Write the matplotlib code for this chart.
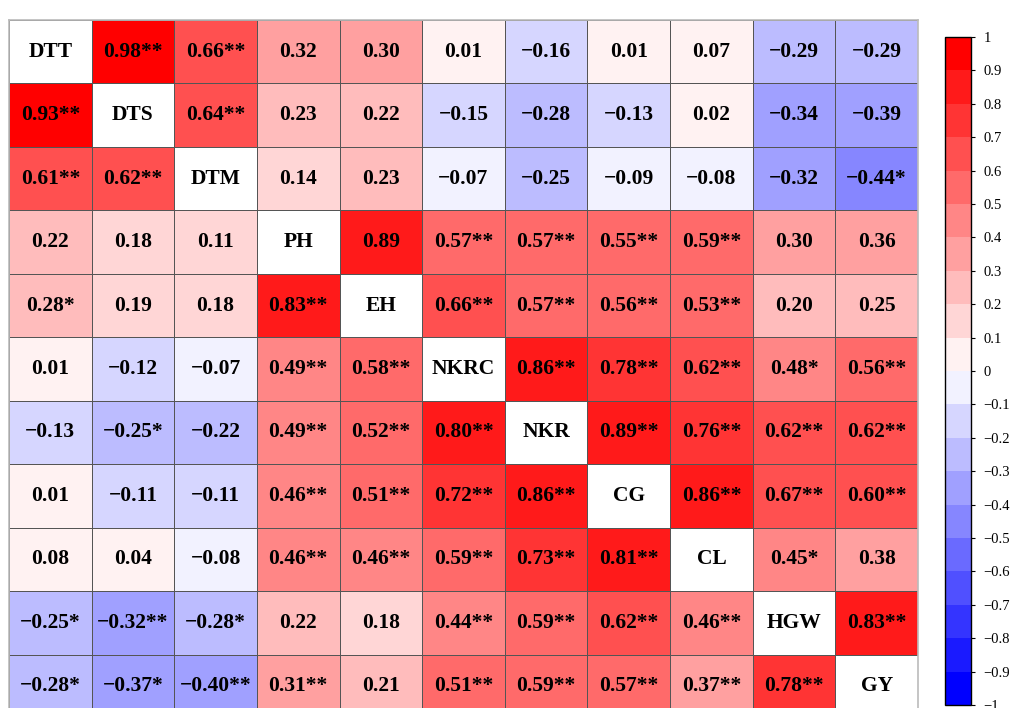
import numpy as np
import matplotlib
matplotlib.use("Agg")
import matplotlib.pyplot as plt
from matplotlib.colors import ListedColormap, BoundaryNorm

traits = ["DTT", "DTS", "DTM", "PH", "EH", "NKRC", "NKR", "CG", "CL", "HGW", "GY"]

# correlation labels, row by row (diagonal holds the trait name)
labels = [
    ["DTT", "0.98**", "0.66**", "0.32", "0.30", "0.01", "−0.16", "0.01", "0.07", "−0.29", "−0.29"],
    ["0.93**", "DTS", "0.64**", "0.23", "0.22", "−0.15", "−0.28", "−0.13", "0.02", "−0.34", "−0.39"],
    ["0.61**", "0.62**", "DTM", "0.14", "0.23", "−0.07", "−0.25", "−0.09", "−0.08", "−0.32", "−0.44*"],
    ["0.22", "0.18", "0.11", "PH", "0.89", "0.57**", "0.57**", "0.55**", "0.59**", "0.30", "0.36"],
    ["0.28*", "0.19", "0.18", "0.83**", "EH", "0.66**", "0.57**", "0.56**", "0.53**", "0.20", "0.25"],
    ["0.01", "−0.12", "−0.07", "0.49**", "0.58**", "NKRC", "0.86**", "0.78**", "0.62**", "0.48*", "0.56**"],
    ["−0.13", "−0.25*", "−0.22", "0.49**", "0.52**", "0.80**", "NKR", "0.89**", "0.76**", "0.62**", "0.62**"],
    ["0.01", "−0.11", "−0.11", "0.46**", "0.51**", "0.72**", "0.86**", "CG", "0.86**", "0.67**", "0.60**"],
    ["0.08", "0.04", "−0.08", "0.46**", "0.46**", "0.59**", "0.73**", "0.81**", "CL", "0.45*", "0.38"],
    ["−0.25*", "−0.32**", "−0.28*", "0.22", "0.18", "0.44**", "0.59**", "0.62**", "0.46**", "HGW", "0.83**"],
    ["−0.28*", "−0.37*", "−0.40**", "0.31**", "0.21", "0.51**", "0.59**", "0.57**", "0.37**", "0.78**", "GY"],
]


def to_value(s):
    s = s.replace("*", "").replace("−", "-")
    try:
        return float(s)
    except ValueError:
        return np.nan


n = len(traits)
corr = np.array([[to_value(s) for s in row] for row in labels])

# 20 discrete steps of a blue-white-red scale (rounded so 0.30 lands in 0.3-0.4)
levels = np.round(np.linspace(-1, 1, 21), 2)
cmap = ListedColormap(plt.cm.bwr(np.linspace(0, 1, 20)))
cmap.set_bad("white")
norm = BoundaryNorm(levels, cmap.N)

fig = plt.figure(figsize=(10.11, 7.08), dpi=100)
ax = fig.add_axes([9 / 1011, 1 - 718 / 708, 909 / 1011, 698 / 708])
cax = fig.add_axes([945 / 1011, 1 - 705 / 708, 26 / 1011, 668 / 708])

mesh = ax.pcolormesh(np.ma.masked_invalid(corr), cmap=cmap, norm=norm,
                     edgecolors="#555555", linewidth=0.7)
ax.set_xlim(0, n)
ax.set_ylim(n, 0)
ax.set_xticks([])
ax.set_yticks([])
for sp in ax.spines.values():
    sp.set_color("#bbbbbb")
    sp.set_linewidth(1.2)

for i in range(n):
    for j in range(n):
        ax.text(j + 0.5, i + 0.5, labels[i][j], ha="center", va="center",
                fontsize=15.5, fontweight="bold", family="Liberation Serif", color="black")

cb = fig.colorbar(mesh, cax=cax, ticks=levels)
cb.outline.set_linewidth(1.0)
cb.ax.tick_params(length=3, width=0.8, labelsize=10.5, pad=6)
cb.ax.set_yticklabels([f"{v:g}".replace("-", "−") if abs(v) > 1e-9 else "0" for v in levels],
                      family="Liberation Serif")

fig.savefig("out.png", dpi=100)
